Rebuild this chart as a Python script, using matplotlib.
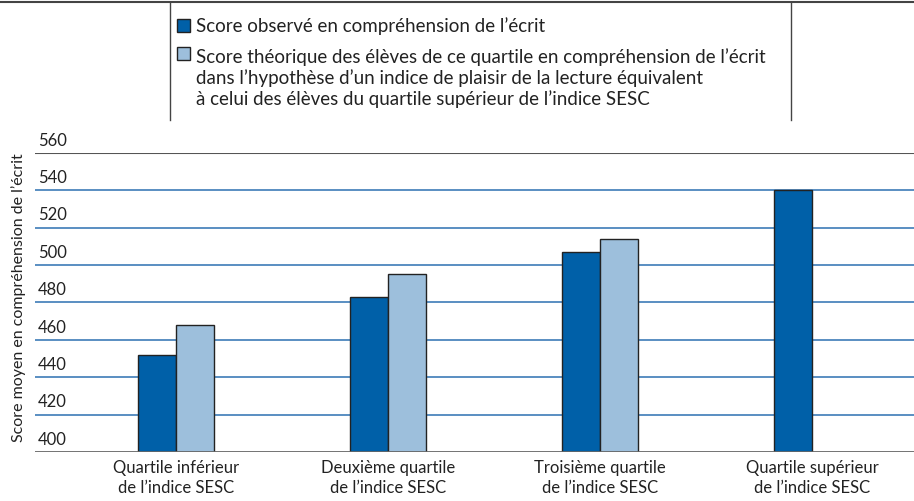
import numpy as np
import matplotlib.pyplot as plt
from matplotlib.lines import Line2D
from matplotlib.patches import Rectangle

plt.rcParams['font.family'] = ['Lato', 'DejaVu Sans']

# Données : score moyen par quartile de l'indice SESC
quartiles = ["Quartile inférieur\nde l’indice SESC",
             "Deuxième quartile\nde l’indice SESC",
             "Troisième quartile\nde l’indice SESC",
             "Quartile supérieur\nde l’indice SESC"]
score_observe = [452, 483, 507, 540]
score_theorique = [468, 495, 514, np.nan]
yticks = [400, 420, 440, 460, 480, 500, 520, 540, 560]

bleu_fonce = "#0060a8"
bleu_clair = "#9dbfdc"
ligne_grille = "#3d7cb8"

fig = plt.figure(figsize=(9.14, 5.01), dpi=100)
ax = fig.add_axes([0.038, 0.098, 0.962, 0.597])

x = np.arange(len(quartiles))
largeur = 0.18
ax.set_xlim(-0.665, 3.48)
ax.set_ylim(400, 560)

# Lignes horizontales de la grille
for v in yticks[1:-1]:
    ax.axhline(v, color=ligne_grille, lw=1.2, zorder=1)
ax.axhline(560, color="#555555", lw=1.5, zorder=1)
ax.axhline(400, color="#666666", lw=2, zorder=4)

ax.bar(x - largeur / 2, score_observe, largeur, bottom=0, color=bleu_fonce,
       edgecolor="#222222", lw=1, zorder=3)
ax.bar(x + largeur / 2, score_theorique, largeur, bottom=0, color=bleu_clair,
       edgecolor="#222222", lw=1, zorder=3)

# Graduations placées au-dessus des lignes
for v in yticks:
    ax.text(0.004, v + 2.2, str(v), transform=ax.get_yaxis_transform(),
            ha="left", va="bottom", fontsize=12, color="#222222")

ax.set_yticks([])
ax.set_xticks(x)
ax.set_xticklabels(quartiles, fontsize=12, color="#222222", linespacing=1.3)
ax.tick_params(axis="x", length=0, pad=6)
for s in ax.spines.values():
    s.set_visible(False)

fig.text(0.020, 0.405, "Score moyen en compréhension de l’écrit", rotation=90,
         ha="center", va="center", fontsize=11.5, color="#222222")

# Cadre de la légende
fig.add_artist(Line2D([0, 1], [0.996, 0.996], color="#444444", lw=1.5))
fig.add_artist(Line2D([0.186, 0.186], [0.76, 0.996], color="#444444", lw=1))
fig.add_artist(Line2D([0.865, 0.865], [0.76, 0.996], color="#444444", lw=1))

fig.add_artist(Rectangle((0.194, 0.936), 0.0142, 0.027, transform=fig.transFigure,
                         facecolor=bleu_fonce, edgecolor="#222222", lw=1))
fig.add_artist(Rectangle((0.194, 0.880), 0.0142, 0.027, transform=fig.transFigure,
                         facecolor=bleu_clair, edgecolor="#222222", lw=1))
fig.text(0.214, 0.948, "Score observé en compréhension de l’écrit",
         ha="left", va="center", fontsize=13.5, color="#222222")
fig.text(0.214, 0.903,
         "Score théorique des élèves de ce quartile en compréhension de l’écrit\n"
         "dans l’hypothèse d’un indice de plaisir de la lecture équivalent\n"
         "à celui des élèves du quartile supérieur de l’indice SESC",
         ha="left", va="top", fontsize=13.5, color="#222222", linespacing=1.2)

fig.savefig("out.png", dpi=100)
